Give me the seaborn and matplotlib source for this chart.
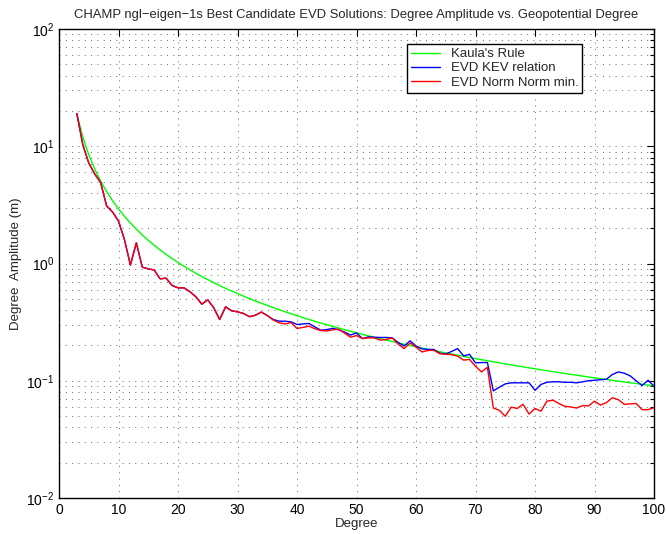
import numpy as np
import pandas as pd
import matplotlib
matplotlib.use("Agg")
import matplotlib.pyplot as plt
import seaborn as sns
from matplotlib.ticker import LogLocator, LogFormatterMathtext, MultipleLocator, NullFormatter

sns.set_style("white")
plt.rcParams["font.family"] = ["Liberation Sans", "DejaVu Sans"]
plt.rcParams["mathtext.fontset"] = "custom"
plt.rcParams["mathtext.rm"] = "Liberation Sans"
plt.rcParams["mathtext.it"] = "Liberation Sans:italic"
plt.rcParams["mathtext.bf"] = "Liberation Sans:bold"

# Spherical harmonic degrees
degree = list(range(3, 101))

# Kaula's rule degree amplitude (m)
kaula = [
    18.75, 11.96, 8.46, 6.388, 5.041, 4.109, 3.432, 2.923, 2.528, 2.215,
    1.961, 1.752, 1.578, 1.431, 1.306, 1.197, 1.103, 1.021, 0.9484, 0.884,
    0.8266, 0.7751, 0.7288, 0.6869, 0.6488, 0.6142, 0.5825, 0.5535, 0.5268, 0.5022,
    0.4794, 0.4583, 0.4387, 0.4205, 0.4035, 0.3876, 0.3727, 0.3588, 0.3457, 0.3333,
    0.3217, 0.3108, 0.3005, 0.2907, 0.2814, 0.2726, 0.2643, 0.2564, 0.2489, 0.2417,
    0.2349, 0.2284, 0.2221, 0.2162, 0.2105, 0.2051, 0.1999, 0.1949, 0.1901, 0.1855,
    0.1811, 0.1769, 0.1728, 0.1689, 0.1651, 0.1614, 0.1579, 0.1546, 0.1513, 0.1482,
    0.1451, 0.1422, 0.1393, 0.1366, 0.1339, 0.1314, 0.1289, 0.1265, 0.1241, 0.1218,
    0.1196, 0.1175, 0.1154, 0.1134, 0.1115, 0.1096, 0.1077, 0.1059, 0.1042, 0.1025,
    0.1008, 0.09924, 0.09767, 0.09614, 0.09466, 0.09321, 0.0918, 0.0904,
]

# EVD solution using the KEV relation (m)
evd_kev = [
    19.0, 10.3, 7.2, 5.8, 4.9, 3.1, 2.75, 2.3, 1.6, 0.97,
    1.5, 0.93, 0.9, 0.88, 0.74, 0.75, 0.65, 0.62, 0.62, 0.575,
    0.52, 0.45, 0.49, 0.42, 0.333, 0.427, 0.395, 0.387, 0.375, 0.352,
    0.362, 0.385, 0.36, 0.333, 0.322, 0.322, 0.318, 0.302, 0.305, 0.308,
    0.288, 0.27, 0.273, 0.28, 0.272, 0.26, 0.245, 0.256, 0.229, 0.237,
    0.235, 0.234, 0.234, 0.232, 0.212, 0.198, 0.219, 0.198, 0.187, 0.185,
    0.185, 0.172, 0.169, 0.178, 0.188, 0.163, 0.168, 0.142, 0.143, 0.143,
    0.082, 0.088, 0.094, 0.096, 0.096, 0.096, 0.096, 0.083, 0.093, 0.097,
    0.098, 0.098, 0.097, 0.097, 0.096, 0.098, 0.1, 0.101, 0.102, 0.103,
    0.113, 0.119, 0.116, 0.11, 0.1, 0.091, 0.101, 0.09,
]

# EVD solution using norm minimisation (m)
evd_norm = [
    19.0, 10.3, 7.2, 5.8, 4.9, 3.1, 2.75, 2.3, 1.6, 0.97,
    1.5, 0.93, 0.9, 0.88, 0.74, 0.75, 0.65, 0.62, 0.62, 0.575,
    0.52, 0.45, 0.49, 0.42, 0.333, 0.427, 0.395, 0.387, 0.375, 0.352,
    0.362, 0.385, 0.36, 0.33, 0.312, 0.305, 0.314, 0.279, 0.285, 0.292,
    0.278, 0.268, 0.266, 0.272, 0.275, 0.255, 0.235, 0.243, 0.229, 0.232,
    0.232, 0.222, 0.225, 0.232, 0.205, 0.188, 0.21, 0.194, 0.176, 0.181,
    0.182, 0.17, 0.168, 0.167, 0.162, 0.15, 0.152, 0.133, 0.119, 0.13,
    0.0585, 0.056, 0.0498, 0.0596, 0.058, 0.063, 0.052, 0.058, 0.055, 0.067,
    0.0683, 0.064, 0.0605, 0.0598, 0.0585, 0.0614, 0.061, 0.067, 0.062, 0.065,
    0.0717, 0.069, 0.063, 0.0635, 0.064, 0.0567, 0.0567, 0.0588,
]

series_names = ["Kaula's Rule", "EVD KEV relation", "EVD Norm Norm min."]
series_colors = ["#00ff00", "#0000ff", "#ff0000"]

df = pd.concat([
    pd.DataFrame({"Degree": degree, "Amplitude": vals, "Series": name})
    for name, vals in zip(series_names, [kaula, evd_kev, evd_norm])
], ignore_index=True)

fig = plt.figure(figsize=(6.66, 5.34), dpi=100)
ax = fig.add_axes([59 / 666, 1 - 498 / 534, 595 / 666, 469 / 534])

sns.lineplot(data=df, x="Degree", y="Amplitude", hue="Series",
             hue_order=series_names, palette=dict(zip(series_names, series_colors)),
             linewidth=1.0, ax=ax, legend=True, estimator=None, sort=False)

ax.set_yscale("log")
ax.set_xlim(0, 100)
ax.set_ylim(1e-2, 1e2)
ax.xaxis.set_major_locator(MultipleLocator(10))
ax.yaxis.set_major_locator(LogLocator(base=10, numticks=10))
ax.yaxis.set_minor_locator(LogLocator(base=10, subs=np.arange(2, 10), numticks=20))
ax.yaxis.set_major_formatter(LogFormatterMathtext())
ax.yaxis.set_minor_formatter(NullFormatter())

grid_style = dict(color="0.4", linestyle=(0, (1, 5.5)), linewidth=0.7)
ax.grid(True, which="major", axis="both", **grid_style)
ax.grid(True, which="minor", axis="y", **grid_style)
ax.set_axisbelow(True)

ax.tick_params(which="both", direction="in", top=True, right=True,
               labelsize=10, colors="black", width=0.8)
ax.tick_params(which="major", length=5)
ax.tick_params(which="minor", length=3)
for s in ax.spines.values():
    s.set_color("black")
    s.set_linewidth(1.0)

ax.set_xlabel("Degree", fontsize=9.5, labelpad=1)
ax.set_ylabel("Degree  Amplitude (m)", fontsize=9.5, labelpad=3)
ax.set_title("CHAMP ngl\u2212eigen\u22121s Best Candidate EVD Solutions: Degree Amplitude vs. Geopotential Degree",
             fontsize=9.4, pad=8)

handles, labels = ax.get_legend_handles_labels()
leg = ax.legend(handles, labels, loc="upper left", bbox_to_anchor=(0.585, 0.968),
                frameon=True, fancybox=False, shadow=False, fontsize=9.5,
                handlelength=2.2, borderpad=0.3, labelspacing=0.15,
                handletextpad=0.8, borderaxespad=0)
leg.get_frame().set_edgecolor("black")
leg.get_frame().set_linewidth(1.0)
leg.get_frame().set_alpha(1.0)

fig.savefig("out.png", dpi=100)
